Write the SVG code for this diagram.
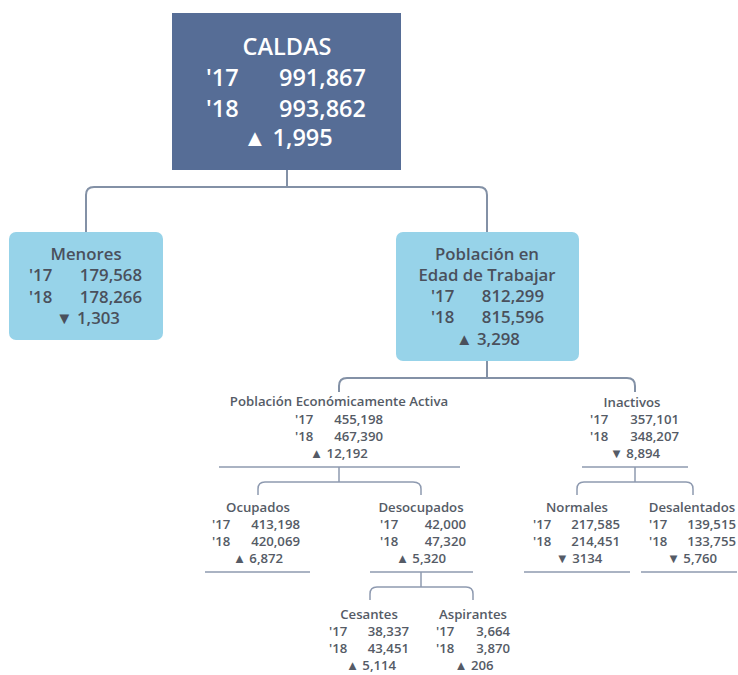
<svg xmlns="http://www.w3.org/2000/svg" width="738" height="675" viewBox="0 0 738 675">
<style>
text{font-family:"Open Sans","Noto Sans","Liberation Sans",sans-serif;font-weight:600}
.w{fill:#ffffff;font-size:23.5px}
.d{fill:#4a505c;font-size:16.8px}
.s{fill:#555b66;font-size:13.2px}
.c{text-anchor:middle}
.e{text-anchor:end}
.ln{fill:none;stroke:#8391a6;stroke-width:2}
.ul{fill:none;stroke:#8e9ab0;stroke-width:1.5}
.lb{fill:#97d3e9}
</style>
<rect width="738" height="675" fill="#ffffff"/>
<g id="connectors">
<path class="ln" d="M287 170 V187 M86 232 V195 Q86 187 94 187 H479 Q487 187 487 195 V232"/>
<path class="ln" d="M487 361 V378 M339 392 V386 Q339 378 347 378 H627 Q635 378 635 386 V392"/>
<path class="ul" d="M219 467 H460 M339 467 V482 M258 495 V489 Q258 482 265 482 H413 Q421 482 421 489 V495"/>
<path class="ul" d="M582 467 H688 M635 467 V482 M577 495 V489 Q577 482 584 482 H686 Q693 482 693 489 V495"/>
<path class="ul" d="M205 572 H310 M370 572 H473 M524 572 H630 M641 572 H737"/>
<path class="ul" d="M421 572 V587 M370 600 V594 Q370 587 377 587 H466 Q473 587 473 594 V600"/>
</g>
<g id="caldas">
<rect x="172" y="13" width="229" height="157" fill="#566d96"/>
<text class="w c" x="287" y="55">CALDAS</text>
<text class="w" x="206" y="86">'17</text><text class="w e" x="366" y="86">991,867</text>
<text class="w" x="206" y="117">'18</text><text class="w e" x="366" y="117">993,862</text>
<text class="w c" x="288" y="146">▲ 1,995</text>
</g>
<g id="menores">
<rect class="lb" x="9" y="232" width="154" height="108" rx="7"/>
<text class="d c" x="86" y="260">Menores</text>
<text class="d" x="29" y="281">'17</text><text class="d e" x="142" y="281">179,568</text>
<text class="d" x="29" y="303">'18</text><text class="d e" x="142" y="303">178,266</text>
<text class="d c" x="88" y="324">▼ 1,303</text>
</g>
<g id="pet">
<rect class="lb" x="396" y="232" width="183" height="129" rx="7"/>
<text class="d c" x="487" y="260">Población en</text>
<text class="d c" x="487" y="281">Edad de Trabajar</text>
<text class="d" x="431" y="302">'17</text><text class="d e" x="544" y="302">812,299</text>
<text class="d" x="431" y="323">'18</text><text class="d e" x="544" y="323">815,596</text>
<text class="d c" x="488" y="345">▲ 3,298</text>
</g>
<g id="pea">
<text class="s c" x="339" y="406">Población Económicamente Activa</text>
<text class="s" x="295" y="424">'17</text><text class="s e" x="383" y="424">455,198</text>
<text class="s" x="295" y="441">'18</text><text class="s e" x="383" y="441">467,390</text>
<text class="s c" x="339" y="458">▲ 12,192</text>
</g>
<g id="inactivos">
<text class="s c" x="632" y="407">Inactivos</text>
<text class="s" x="590" y="424">'17</text><text class="s e" x="679" y="424">357,101</text>
<text class="s" x="590" y="441">'18</text><text class="s e" x="679" y="441">348,207</text>
<text class="s c" x="635" y="458">▼ 8,894</text>
</g>
<g id="ocupados">
<text class="s c" x="258" y="512">Ocupados</text>
<text class="s" x="212" y="529">'17</text><text class="s e" x="300" y="529">413,198</text>
<text class="s" x="212" y="546">'18</text><text class="s e" x="300" y="546">420,069</text>
<text class="s c" x="258" y="563">▲ 6,872</text>
</g>
<g id="desocupados">
<text class="s c" x="421" y="512">Desocupados</text>
<text class="s" x="380" y="529">'17</text><text class="s e" x="466" y="529">42,000</text>
<text class="s" x="380" y="546">'18</text><text class="s e" x="466" y="546">47,320</text>
<text class="s c" x="421" y="563">▲ 5,320</text>
</g>
<g id="normales">
<text class="s c" x="577" y="512">Normales</text>
<text class="s" x="533" y="529">'17</text><text class="s e" x="620" y="529">217,585</text>
<text class="s" x="533" y="546">'18</text><text class="s e" x="620" y="546">214,451</text>
<text class="s c" x="579" y="563">▼ 3134</text>
</g>
<g id="desalentados">
<text class="s c" x="692" y="512">Desalentados</text>
<text class="s" x="649" y="529">'17</text><text class="s e" x="736" y="529">139,515</text>
<text class="s" x="649" y="546">'18</text><text class="s e" x="736" y="546">133,755</text>
<text class="s c" x="692" y="563">▼ 5,760</text>
</g>
<g id="cesantes">
<text class="s c" x="369" y="619">Cesantes</text>
<text class="s" x="329" y="636">'17</text><text class="s e" x="409" y="636">38,337</text>
<text class="s" x="329" y="653">'18</text><text class="s e" x="409" y="653">43,451</text>
<text class="s c" x="371" y="670">▲ 5,114</text>
</g>
<g id="aspirantes">
<text class="s c" x="473" y="619">Aspirantes</text>
<text class="s" x="436" y="636">'17</text><text class="s e" x="510" y="636">3,664</text>
<text class="s" x="436" y="653">'18</text><text class="s e" x="510" y="653">3,870</text>
<text class="s c" x="474" y="670">▲ 206</text>
</g>
</svg>
